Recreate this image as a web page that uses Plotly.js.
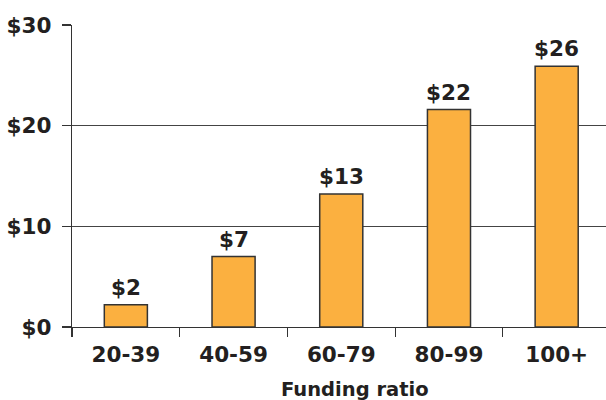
<!DOCTYPE html>
<html>
<head>
<meta charset="utf-8">
<script src="https://cdn.plot.ly/plotly-3.0.1.min.js"></script>
<style>html,body{margin:0;padding:0;background:#fff;}#chart{width:606px;height:400px;}</style>
</head>
<body>
<div id="chart"></div>
<script>
const categories = ["20-39", "40-59", "60-79", "80-99", "100+"];
const values = [2.2, 7.0, 13.2, 21.6, 25.9];
const barLabels = ["$2", "$7", "$13", "$22", "$26"];
const yTickValues = [0, 10, 20, 30];
const yTickLabels = ["$0", "$10", "$20", "$30"];
const xTitle = "Funding ratio";

const FONT = "DejaVu Sans, sans-serif";
const INK = "#231f20";
const SIZE = 21.5;

const trace = {
  type: "bar",
  x: categories,
  y: values,
  width: 0.4,
  marker: {color: "#fbb040", line: {color: "#333333", width: 1.5}},
  hoverinfo: "none"
};

const labelAnnotations = categories.map((c, i) => ({
  x: c, y: values[i], xref: "x", yref: "y",
  text: barLabels[i],
  showarrow: false,
  xanchor: "center", yanchor: "bottom",
  yshift: 3,
  font: {family: FONT, size: SIZE, color: INK, weight: "bold"}
}));

const layout = {
  width: 606,
  height: 400,
  margin: {l: 72, r: 0, t: 25, b: 73},
  paper_bgcolor: "#ffffff",
  plot_bgcolor: "#ffffff",
  showlegend: false,
  font: {family: FONT, size: SIZE, color: INK, weight: "bold"},
  xaxis: {
    type: "category",
    range: [-0.5, 4.458],
    tickson: "boundaries",
    ticks: "outside",
    ticklen: 9,
    tickwidth: 1.2,
    tickcolor: "#333333",
    showline: true,
    linecolor: "#333333",
    linewidth: 1.2,
    showgrid: false,
    ticklabelstandoff: 8,
    tickfont: {family: FONT, size: SIZE, color: INK, weight: "bold"},
    fixedrange: true
  },
  yaxis: {
    range: [0, 30],
    tickvals: yTickValues,
    ticktext: yTickLabels,
    ticks: "outside",
    ticklen: 9,
    tickwidth: 1.2,
    tickcolor: "#333333",
    showline: true,
    linecolor: "#333333",
    linewidth: 1.2,
    showgrid: true,
    gridcolor: "#444444",
    gridwidth: 1,
    zeroline: false,
    ticklabelstandoff: 6,
    tickfont: {family: FONT, size: SIZE, color: INK, weight: "bold"},
    fixedrange: true
  },
  annotations: labelAnnotations.concat([{
    text: xTitle,
    xref: "paper", yref: "paper",
    x: 0.53, y: 0,
    xanchor: "center", yanchor: "top",
    yshift: -49,
    showarrow: false,
    font: {family: FONT, size: 19.5, color: INK, weight: "bold"}
  }])
};

Plotly.newPlot("chart", [trace], layout, {displayModeBar: false, staticPlot: true});
</script>
</body>
</html>
